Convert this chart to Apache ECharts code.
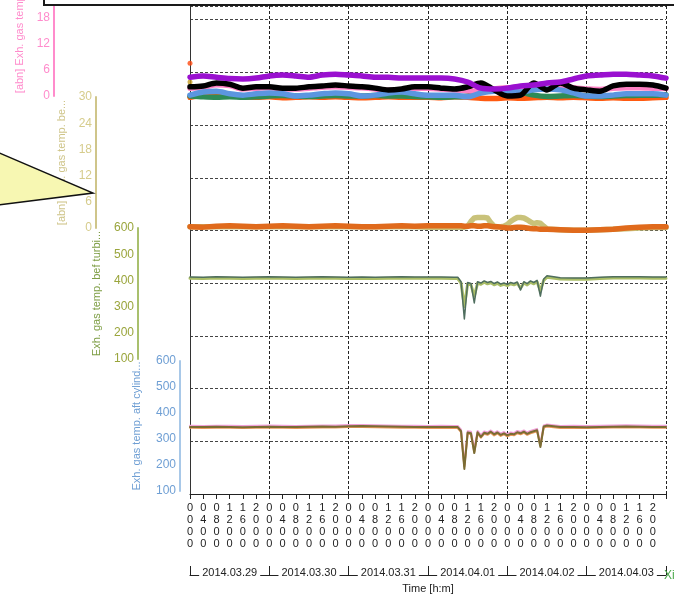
<!DOCTYPE html>
<html>
<head>
<meta charset="utf-8">
<script src="https://cdn.jsdelivr.net/npm/echarts@6/dist/echarts.min.js"></script>
<style>
  html, body { margin: 0; padding: 0; background: #fff; }
  #chart { width: 674px; height: 596px; }
</style>
</head>
<body>
<div id="chart"></div>
<script>
  // days on the bottom bracket axis
  const days = ['2014.03.29', '2014.03.30', '2014.03.31', '2014.04.01', '2014.04.02', '2014.04.03'];

  // hours since 2014.03.29 00:00
  const hoursCoarse = [0, 4, 8, 12, 16, 20, 24, 28, 32, 36, 40, 44, 48, 52, 56, 60, 64, 68, 72,
    76, 80, 84, 88, 92, 96, 100, 104, 108, 112, 116, 120, 124, 128, 132, 136, 140, 144];
  const hoursFine = [0, 4, 8, 12, 16, 20, 24, 28, 32, 36, 40, 44, 48, 52, 56, 60, 64, 68, 72, 76, 80,
    81, 82, 83, 84, 85, 86, 87, 88, 89, 90, 91, 92, 93, 94, 95, 96, 97, 98, 99, 100,
    101, 102, 103, 104, 105, 106, 107, 108,
    112, 116, 120, 124, 128, 132, 136, 140, 144];

  // [abn] Exh. gas temp (top band)
  const abnOrange = [-0.3, 0.3, 0.5, 0.2, -0.2, -0.3, -0.2, -0.4, -0.3, -0.2, -0.3, -0.2, -0.3, -0.4, -0.3, -0.2, -0.3, -0.3, -0.3, -0.4, -0.2, -0.3, -0.5, -0.6, -0.4, -0.5, -0.4, -0.3, -0.4, -0.3, -0.4, -0.5, -0.4, -0.5, -0.5, -0.4, -0.3];
  const abnGreen = [0.0, -0.2, -0.3, -0.2, -0.3, -0.2, 0.0, 0.1, 0.0, -0.1, 0.0, 0.1, 0.0, 0.0, 0.1, 0.0, 0.0, -0.1, -0.2, -0.3, -0.2, 0.0, 0.9, 1.4, 1.3, 0.9, 0.2, -0.1, 0.0, 0.1, 0.0, -0.1, 0.0, 0.1, 0.2, 0.2, 0.3];
  const abnPink = [1.8, 2.0, 2.6, 2.4, 1.6, 1.8, 1.9, 1.6, 1.6, 1.8, 2.0, 2.1, 2.0, 1.9, 1.6, 1.3, 1.4, 1.8, 1.8, 1.6, 1.4, 1.2, 1.0, 1.6, 1.9, 2.0, 2.2, 2.1, 2.2, 1.9, 1.6, 1.5, 1.8, 1.9, 1.9, 1.8, 1.7];
  const abnBlue = [0.2, 0.9, 1.1, 0.5, 0.2, 0.5, 0.7, 0.5, 0.0, 0.2, 0.5, 0.7, 0.5, 0.0, 0.2, 0.7, 0.9, 0.5, 0.2, 0.2, 0.2, -0.2, 0.7, 1.1, 1.1, 0.9, 1.4, 1.6, 1.4, 0.7, 0.0, 0.0, 0.2, 0.5, 0.5, 0.5, 0.2];
  const abnBlack = [2.1, 2.3, 3.0, 2.7, 1.8, 2.1, 2.1, 1.8, 1.8, 2.1, 2.3, 2.5, 2.3, 2.1, 1.8, 1.4, 1.6, 2.1, 2.1, 1.8, 1.6, 2.1, 3.0, 1.4, 0.0, 0.2, 3.0, 1.4, 3.0, 1.8, 1.4, 1.1, 2.3, 2.7, 2.7, 2.5, 1.8];
  const abnPurple = [4.3, 4.6, 4.3, 4.0, 3.9, 4.1, 4.6, 4.8, 4.6, 4.3, 4.8, 5.0, 4.8, 4.6, 4.3, 4.3, 4.1, 4.1, 4.1, 4.1, 3.9, 3.2, 1.8, 1.6, 1.8, 2.3, 2.5, 3.0, 3.2, 3.9, 4.6, 4.8, 5.0, 5.0, 4.8, 4.6, 4.1];
  const startDotOrange = [7.5];
  const startDotOlive = [3.2];

  // [abn] ... gas temp. be... (second band)
  const bandKhaki = [0.3, 0.3, 0.3, 0.3, 0.3, 0.3, 0.3, 0.3, 0.3, 0.3, 0.3, 0.3, 0.3, 0.3, 0.3, 0.3, 0.3, 0.3, 0.2, 0.2, 0.2,
    0.2, 0.2, 0.2, 0.4, 1.5, 2.3, 2.4, 2.4, 2.4, 2.3, 1.2, 0.4, 0.3, 0.3, 0.4, 0.8, 1.5, 2.0, 2.4, 2.4, 2.3, 1.9, 1.4, 1.0, 1.2, 1.1, 0.4, -0.2,
    -0.4, -0.5, -0.5, -0.4, -0.3, -0.2, 0.0, 0.1, 0.1];
  const bandOrange = [0.3, 0.2, 0.4, 0.5, 0.4, 0.3, 0.4, 0.5, 0.4, 0.3, 0.4, 0.5, 0.4, 0.3, 0.3, 0.4, 0.5, 0.4, 0.5, 0.5, 0.5,
    0.5, 0.5, 0.4, 0.4, 0.5, 0.5, 0.4, 0.4, 0.5, 0.5, 0.4, 0.3, 0.3, 0.2, 0.1, 0.0, 0.0, 0.1, 0.2, 0.2, 0.1, 0.0, -0.1, -0.2, -0.2, -0.3, -0.3, -0.3,
    -0.4, -0.5, -0.5, -0.4, -0.3, 0.0, 0.2, 0.3, 0.3];

  // Exh. gas temp. bef turbine
  const turbineLight = [408, 407, 409, 408, 407, 408, 409, 408, 407, 408, 409, 408, 407, 408, 407, 408, 409, 408, 408, 408, 407,
    407, 390, 300, 387, 383, 340, 390, 385, 393, 387, 391, 383, 389, 381, 385, 380, 387, 383, 389, 370, 390, 383, 393, 387, 395, 360, 400, 412,
    405, 404, 404, 407, 409, 409, 409, 408, 408];
  const turbineDark = [413, 412, 414, 413, 412, 413, 414, 413, 412, 413, 414, 413, 412, 413, 412, 413, 414, 413, 413, 413, 412,
    412, 395, 253, 392, 388, 314, 395, 390, 398, 392, 396, 388, 394, 386, 390, 385, 392, 388, 394, 363, 395, 388, 398, 392, 400, 340, 405, 418,
    410, 409, 409, 412, 414, 414, 414, 413, 413];

  // Exh. gas temp. aft cylinder
  const cylPink = [351, 350, 351, 351, 350, 351, 352, 351, 350, 351, 352, 352, 354, 354, 353, 352, 351, 351, 350, 351, 350,
    350, 336, 200, 330, 328, 260, 331, 315, 329, 325, 333, 323, 330, 321, 327, 319, 325, 323, 331, 327, 333, 325, 331, 335, 339, 280, 352, 356,
    350, 351, 350, 351, 352, 353, 352, 351, 351];
  const cylOrange = [343, 342, 343, 343, 342, 343, 344, 343, 342, 343, 344, 344, 346, 346, 345, 344, 343, 343, 342, 343, 342,
    342, 326, 195, 322, 318, 250, 322, 305, 320, 316, 324, 314, 321, 312, 318, 310, 316, 314, 322, 318, 324, 316, 322, 326, 330, 275, 344, 348,
    342, 343, 342, 343, 344, 345, 344, 343, 343];
  const cylOlive = [346, 346, 347, 346, 345, 346, 347, 346, 346, 347, 348, 347, 349, 350, 349, 348, 347, 346, 346, 346, 346,
    346, 330, 185, 325, 322, 246, 326, 308, 324, 320, 328, 318, 325, 316, 322, 314, 320, 318, 326, 322, 328, 320, 326, 330, 334, 269, 348, 352,
    346, 346, 345, 346, 347, 348, 347, 346, 346];

  const FONT = 'Liberation Sans';
  const PLOT_L = 190, PLOT_R = 8;

  function pairs(hours, vals) {
    return hours.map((h, i) => [h, vals[i]]);
  }

  function line(grid, hours, vals, color, width, smooth) {
    return {
      type: 'line',
      xAxisIndex: grid + 1,
      yAxisIndex: grid,
      data: pairs(hours, vals),
      showSymbol: false,
      clip: false,
      smooth: smooth || false,
      lineStyle: { color: color, width: width, cap: 'round', join: 'round' },
      itemStyle: { color: color }
    };
  }

  function dot(vals, color) {
    return {
      type: 'scatter',
      xAxisIndex: 2,
      yAxisIndex: 1,
      data: vals.map(v => [0, v]),
      symbolSize: 5,
      clip: false,
      itemStyle: { color: color }
    };
  }

  function bandAxis(grid, min, max, interval, offset, color, lineColor, name, nameColor, gap) {
    return {
      type: 'value',
      gridIndex: grid,
      position: 'left',
      offset: offset,
      min: min,
      max: max,
      interval: interval,
      axisLine: { show: true, onZero: false, lineStyle: { color: lineColor, width: 2 } },
      axisTick: { show: false },
      splitLine: { show: false },
      axisLabel: { color: color, fontSize: 12, fontFamily: FONT, margin: 4 },
      name: name,
      nameLocation: 'middle',
      nameRotate: 90,
      nameGap: gap,
      nameTextStyle: { color: nameColor, fontSize: 11, fontFamily: FONT }
    };
  }

  function hiddenX(grid) {
    return { type: 'value', gridIndex: grid, min: 0, max: 144, show: false };
  }

  const chart = echarts.init(document.getElementById('chart'));

  chart.setOption({
    animation: false,
    backgroundColor: '#fff',
    textStyle: { fontFamily: FONT },
    grid: [
      { left: PLOT_L, right: PLOT_R, top: 6, bottom: 102, outerBoundsMode: 'none' },
      { left: PLOT_L, right: PLOT_R, top: -35, height: 131, outerBoundsMode: 'none' },
      { left: PLOT_L, right: PLOT_R, top: 97, height: 131, outerBoundsMode: 'none' },
      { left: PLOT_L, right: PLOT_R, top: 228, height: 131, outerBoundsMode: 'none' },
      { left: PLOT_L, right: PLOT_R, top: 361, height: 130, outerBoundsMode: 'none' }
    ],
    xAxis: [
      {
        type: 'value',
        gridIndex: 0,
        min: 0,
        max: 144,
        interval: 4,
        axisLine: { show: true, onZero: false, lineStyle: { color: '#222', width: 1 } },
        axisTick: { show: true, length: 5, lineStyle: { color: '#222' } },
        splitLine: { show: false },
        axisLabel: {
          color: '#222',
          fontSize: 11,
          lineHeight: 12,
          margin: 8,
          showMaxLabel: true,
          formatter: v => v >= 144 ? '' : (String(v % 24).padStart(2, '0') + '00').split('').join('\n')
        }
      },
      {
        type: 'category',
        gridIndex: 0,
        data: days,
        position: 'bottom',
        offset: 81,
        boundaryGap: true,
        axisLine: { show: true, onZero: false, lineStyle: { color: '#222', width: 1 } },
        axisTick: { show: true, inside: true, length: 9, interval: 0, lineStyle: { color: '#222' } },
        splitLine: { show: true, interval: 0, lineStyle: { color: '#222', type: [3, 2], width: 1 } },
        axisLabel: {
          color: '#222', fontSize: 11, margin: -8, interval: 0,
          backgroundColor: '#fff', padding: [0, 3]
        },
        name: 'Time [h:m]',
        nameLocation: 'middle',
        nameGap: 8,
        nameTextStyle: { color: '#222', fontSize: 11, verticalAlign: 'top' }
      },
      hiddenX(1), hiddenX(2), hiddenX(3), hiddenX(4)
    ],
    yAxis: [
      {
        type: 'value',
        gridIndex: 0,
        min: 0,
        max: 9.26,
        interval: 1,
        axisLine: { show: true, onZero: false, lineStyle: { color: '#333', width: 1 } },
        axisTick: { show: false },
        axisLabel: { show: false },
        splitLine: { show: true, lineStyle: { color: '#444', type: [3, 2], width: 1 } }
      },
      bandAxis(1, 0, 30, 6, 136, '#ff8ccc', '#ff8ccc', '[abn] Exh. gas temp. be...', '#ff8ccc', 28),
      bandAxis(2, 0, 30, 6, 94, '#d6cc8c', '#cfc58a', '[abn] Exh. gas temp. be...', '#cfc58a', 28),
      bandAxis(3, 100, 600, 100, 52, '#9aa53c', '#a9c06e', 'Exh. gas temp. bef turbi...', '#7e9e45', 36),
      bandAxis(4, 100, 600, 100, 10, '#6f9fd4', '#a8c8e8', 'Exh. gas temp. aft cylind...', '#6f9fd4', 38)
    ],
    series: [
      line(1, hoursCoarse, abnOrange, '#ff5a10', 5.5, 0.3),
      line(1, hoursCoarse, abnGreen, '#2e8b57', 5.5, 0.3),
      line(1, hoursCoarse, abnPink, '#ff80c4', 5.5, 0.3),
      line(1, hoursCoarse, abnBlue, '#5c96e0', 5.5, 0.3),
      line(1, hoursCoarse, abnBlack, '#000000', 5.5, 0.3),
      line(1, hoursCoarse, abnPurple, '#9a10d0', 5.5, 0.3),
      dot(startDotOrange, '#ff4a10'),
      dot(startDotOlive, '#c09a20'),

      line(2, hoursFine, bandKhaki, '#c9c27a', 5.5),
      line(2, hoursFine, bandOrange, '#e06a1c', 5.5),

      line(3, hoursFine, turbineLight, '#a9bd66', 3),
      line(3, hoursFine, turbineDark, '#4f6e5e', 1.5),

      line(4, hoursFine, cylPink, '#f0a0d8', 2),
      line(4, hoursFine, cylOrange, '#e8985a', 2),
      line(4, hoursFine, cylOlive, '#7a6c34', 2)
    ],
    graphic: [
      {
        type: 'rect',
        shape: { x: 44, y: -20, width: 660, height: 25 },
        style: { fill: '#fff', stroke: '#1a1a1a', lineWidth: 2 },
        z: 100
      },
      {
        type: 'polygon',
        shape: { points: [[-10, 149], [93, 193], [-10, 206]] },
        style: { fill: '#f7f7b2', stroke: '#111', lineWidth: 1.5 },
        z: 100
      },
      {
        type: 'text',
        left: 664,
        top: 570,
        style: { text: 'Xi', fill: '#4aa84a', fontSize: 12, fontFamily: FONT },
        z: 100
      }
    ]
  });
</script>
</body>
</html>
